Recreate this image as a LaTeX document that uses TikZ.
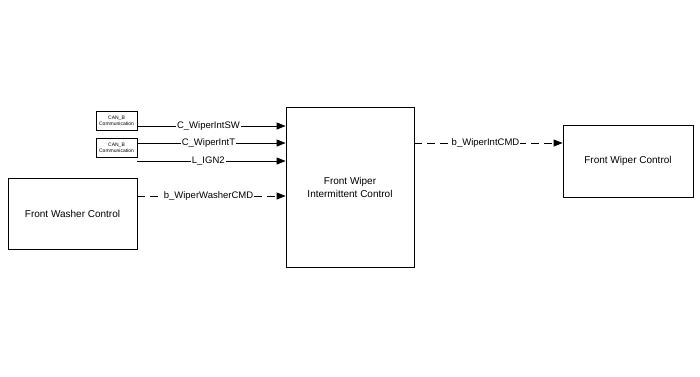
\documentclass[tikz,border=0pt]{standalone}
\usepackage{fontspec}
\setmainfont{Liberation Sans}
\usetikzlibrary{arrows.meta}
\begin{document}
\begin{tikzpicture}[x=1pt,y=-1pt,
  blk/.style={draw,line width=0.8pt,fill=white,font=\fontsize{10}{13}\selectfont,align=center,inner sep=0pt},
  canbox/.style={draw,line width=0.6pt,font=\fontsize{5}{6}\selectfont,align=center,inner sep=0pt},
  sig/.style={line width=0.8pt,-{Triangle[length=9pt,width=7pt]}},
  dsig/.style={sig,dash pattern=on 8pt off 5pt},
  lbl/.style={fill=white,inner sep=1pt,font=\fontsize{9.5}{11}\selectfont,xshift=-3pt}]
\useasboundingbox (0,0) rectangle (700,376);
\node[blk,minimum width=128pt,minimum height=160pt] (main) at (350,187) {Front Wiper\\Intermittent Control};
\node[blk,minimum width=129pt,minimum height=71pt] (wash) at (72.5,213.5) {Front Washer Control};
\node[blk,minimum width=130pt,minimum height=72pt] (wipe) at (628,161) {Front Wiper Control};
\node[canbox,minimum width=41pt,minimum height=19pt] (can1) at (116.5,120.5) {CAN\_B\\Communication};
\node[canbox,minimum width=41pt,minimum height=19pt] (can2) at (116.5,147.5) {CAN\_B\\Communication};
\coordinate (ign) at (137,161);
\draw[sig] (can1.east |- 0,126) -- node[lbl]{C\_WiperIntSW} (main.west |- 0,126);
\draw[sig] (can2.east |- 0,143) -- node[lbl]{C\_WiperIntT} (main.west |- 0,143);
\draw[sig] (ign) -- node[lbl]{L\_IGN2} (main.west |- ign);
\draw[dsig] (wash.east |- 0,196) -- node[lbl]{b\_WiperWasherCMD} (main.west |- 0,196);
\draw[dsig] (main.east |- 0,143) -- node[lbl]{b\_WiperIntCMD} (wipe.west |- 0,143);
\end{tikzpicture}
\end{document}
